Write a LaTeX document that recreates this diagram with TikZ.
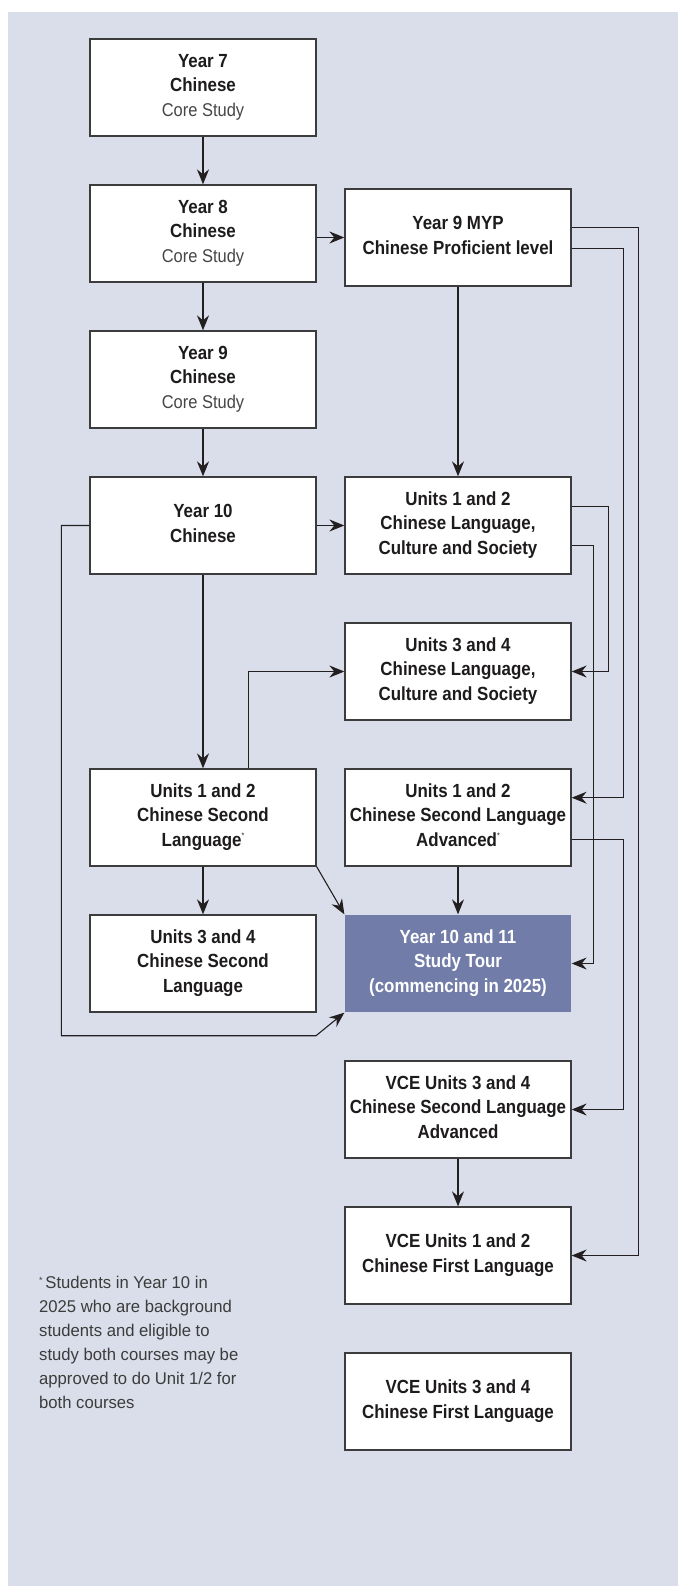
\documentclass[tikz,border=0pt]{standalone}
\usepackage{fontspec}
\setmainfont{Liberation Sans}[FakeStretch=0.89]
\newfontfamily\notefont{Liberation Sans}[FakeStretch=0.98]
\usetikzlibrary{arrows.meta}
\definecolor{bgcol}{RGB}{217,222,234}
\definecolor{tourfill}{RGB}{113,124,168}
\definecolor{boxline}{RGB}{60,60,60}
\definecolor{linecol}{RGB}{35,31,32}
\definecolor{textcol}{RGB}{30,27,28}
\definecolor{corecol}{RGB}{70,70,70}
\definecolor{notecol}{RGB}{60,60,60}
\newcommand\mystrut{\rule[-4.8pt]{0pt}{18.5pt}}
\newcommand\bfmain{\fontsize{19}{24.3}\selectfont\bfseries}
\newcommand\core[1]{{\mdseries\fontsize{18.5}{24.3}\selectfont\color{corecol}#1}}
\newcommand\myast{\raisebox{8pt}{\mdseries\fontsize{8}{8}\selectfont *}}
\tikzset{
  box/.style={draw=boxline, line width=1.3pt, fill=white, minimum width=226pt,
    minimum height=97pt, inner sep=0pt, align=center, font=\bfmain, text=textcol},
  tourbox/.style={box, fill=tourfill, draw=none, text=white},
  conn/.style={draw=linecol, line width=1.1pt, -{Stealth[length=15pt,width=12pt,inset=5pt]}},
}
\begin{document}
\begin{tikzpicture}[x=1pt,y=-1pt]
\useasboundingbox (0,0) rectangle (678,1586);
\fill[white] (0,0) rectangle (678,1586);
\fill[bgcol] (7.8,11.7) rectangle (678,1586);

% boxes
\node[box] (y7) at (203,87.5) {\mystrut Year 7\\\mystrut Chinese\\\mystrut\core{Core Study}};
\node[box] (y8) at (203,233.5) {\mystrut Year 8\\\mystrut Chinese\\\mystrut\core{Core Study}};
\node[box] (myp) at (458,237.5) {\mystrut Year 9 MYP\\\mystrut Chinese Proficient level};
\node[box] (y9) at (203,379.5) {\mystrut Year 9\\\mystrut Chinese\\\mystrut\core{Core Study}};
\node[box] (y10) at (203,525.5) {\mystrut Year 10\\\mystrut Chinese};
\node[box] (u12clcs) at (458,525.5) {\mystrut Units 1 and 2\\\mystrut Chinese Language,\\\mystrut Culture and Society};
\node[box] (u34clcs) at (458,671.5) {\mystrut Units 3 and 4\\\mystrut Chinese Language,\\\mystrut Culture and Society};
\node[box] (u12csl) at (203,817.5) {\mystrut Units 1 and 2\\\mystrut Chinese Second\\\mystrut Language\myast};
\node[box] (u12csla) at (458,817.5) {\mystrut Units 1 and 2\\\mystrut Chinese Second Language\\\mystrut Advanced\myast};
\node[box] (u34csl) at (203,963.5) {\mystrut Units 3 and 4\\\mystrut Chinese Second\\\mystrut Language};
\node[tourbox] (tour) at (458,963.5) {\mystrut Year 10 and 11\\\mystrut Study Tour\\\mystrut (commencing in 2025)};
\node[box] (vce34csla) at (458,1109.5) {\mystrut VCE Units 3 and 4\\\mystrut Chinese Second Language\\\mystrut Advanced};
\node[box] (vce12cfl) at (458,1255.5) {\mystrut VCE Units 1 and 2\\\mystrut Chinese First Language};
\node[box] (vce34cfl) at (458,1401.5) {\mystrut VCE Units 3 and 4\\\mystrut Chinese First Language};

% footnote
\node[anchor=north west, inner sep=0pt, align=left, font={\notefont\fontsize{17}{24}\selectfont}, text=notecol] (note) at (39,1274.3)
 {\rule{0pt}{14pt}\raisebox{5pt}{\fontsize{9}{9}\selectfont *}\,Students in Year 10 in\\2025 who are background\\students and eligible to\\study both courses may be\\approved to do Unit 1/2 for\\both courses};

% bus coordinates
\coordinate (busA) at (638.2,0);
\coordinate (busB) at (623.5,0);
\coordinate (busC) at (608.4,0);
\coordinate (busD) at (593.2,0);
\coordinate (loopL) at (61.4,1035.7);
\coordinate (loopR) at (316,1035.7);

% connectors
\draw[conn] (y7) -- (y8);
\draw[conn] (myp.west -| y8.east) -- (myp.west);
\draw[conn] (y8) -- (y9);
\draw[conn] (y9) -- (y10);
\draw[conn] (myp) -- (u12clcs);
\draw[conn] (y10) -- (u12clcs);
\draw[conn] ([yshift=10.2pt]myp.east) -- ([yshift=10.2pt]myp.east -| busA) |- (vce12cfl.east);
\draw[conn] ([yshift=-10.8pt]myp.east) -- ([yshift=-10.8pt]myp.east -| busB) |- ([yshift=19.8pt]u12csla.east);
\draw[conn] ([yshift=-21.8pt]u12csla.east) -- ([yshift=-21.8pt]u12csla.east -| busB) |- (vce34csla.east);
\draw[conn] ([yshift=18.8pt]u12clcs.east) -- ([yshift=18.8pt]u12clcs.east -| busC) |- (u34clcs.east);
\draw[conn] ([yshift=-20.2pt]u12clcs.east) -- ([yshift=-20.2pt]u12clcs.east -| busD) |- (tour.east);
\draw[conn] (y10.west) -| (loopL) -- (loopR) -- (tour.south west);
\draw[conn] (y10) -- (u12csl);
\draw[conn] ([xshift=45.6pt]u12csl.north) |- (u34clcs.west);
\draw[conn] (u12csl) -- (u34csl);
\draw[conn] (u12csl.south east) -- (tour.north west);
\draw[conn] (u12csla) -- (tour);
\draw[conn] (vce34csla) -- (vce12cfl);
\end{tikzpicture}
\end{document}
